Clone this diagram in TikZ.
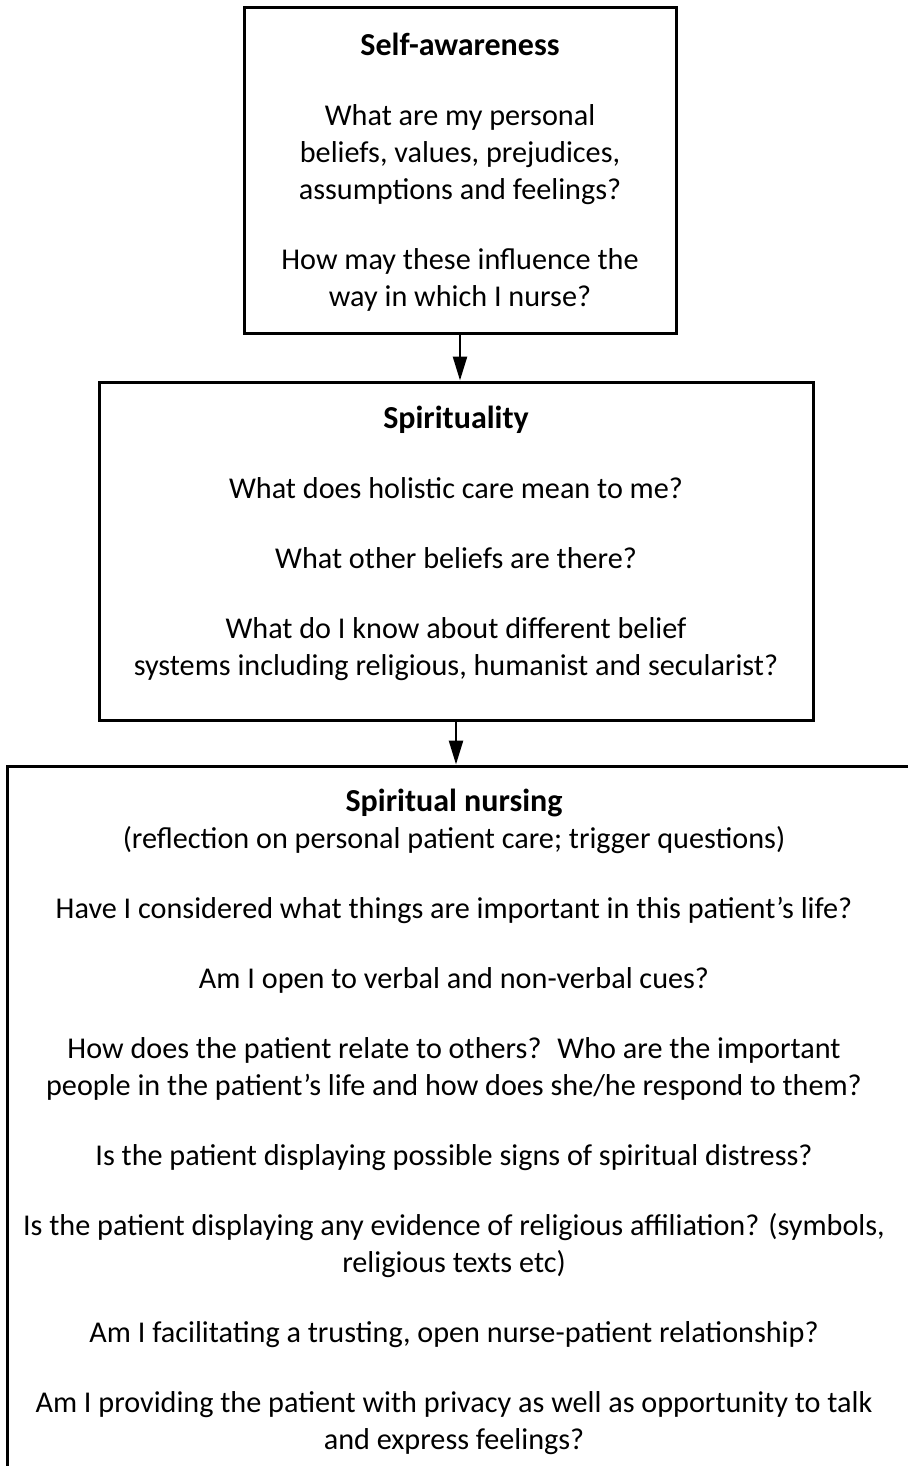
\documentclass[tikz,border=0pt]{standalone}
\usepackage{fontspec}
\setmainfont{Carlito}
\usetikzlibrary{arrows.meta}

\newcommand{\boxtitle}[1]{{\fontsize{16pt}{18.5pt}\selectfont\bfseries #1}}

\begin{document}
\begin{tikzpicture}[
x=0.5pt, y=-0.5pt,
% Style for the frames
frame/.style={
draw=black,
line width=1.5pt,
inner sep=0pt
},
% Style for the text inside the frames
copy/.style={
anchor=north,
align=center,
inner sep=0pt,
font=\fontsize{15.1pt}{18.5pt}\selectfont
},
% Style for the arrows between frames
flow/.style={
-{Triangle[length=12pt,width=7pt]},
line width=1.25pt
}
]

% Page size
\useasboundingbox (0,0) rectangle (908,1466);
\clip (0,0) rectangle (908,1466);

% The three frames (the last one runs off the page)
\node[frame, minimum width=216pt, minimum height=162.5pt] (aware) at (460,170.5) {};
\node[frame, minimum width=357pt, minimum height=169pt] (spirit) at (456,551) {};
\node[frame, minimum width=461.5pt, minimum height=377pt] (nursing) at (468.5,1143) {};

% FRAME 1: Self-awareness
\node[copy] (awaretext) at (460,33) {\boxtitle{Self-awareness}\\[16.5pt]
What are my personal\\
beliefs, values, prejudices,\\
assumptions and feelings?\\[16.5pt]
How may these influence the\\
way in which I nurse?};

% FRAME 2: Spirituality
\node[copy] (spirittext) at (456,406) {\boxtitle{Spirituality}\\[16.5pt]
What does holistic care mean to me?\\[16.5pt]
What other beliefs are there?\\[16.5pt]
What do I know about different belief\\
systems including religious, humanist and secularist?};

% FRAME 3: Spiritual nursing
\node[copy] (nursingtext) at (454,789) {\boxtitle{Spiritual nursing}\\
(reflection on personal patient care; trigger questions)\\[16.5pt]
Have I considered what things are important in this patient’s life?\\[16.5pt]
Am I open to verbal and non-verbal cues?\\[16.5pt]
How does the patient relate to others?~ Who are the important\\
people in the patient’s life and how does she/he respond to them?\\[16.5pt]
Is the patient displaying possible signs of spiritual distress?\\[16.5pt]
Is the patient displaying any evidence of religious affiliation? (symbols,\\
religious texts etc)\\[16.5pt]
Am I facilitating a trusting, open nurse-patient relationship?\\[16.5pt]
Am I providing the patient with privacy as well as opportunity to talk\\
and express feelings?};

% Arrows
\draw[flow] (aware.south) -- (aware.south |- spirit.north);
\draw[flow] (spirit.south) -- (spirit.south |- nursing.north);

\end{tikzpicture}
\end{document}
